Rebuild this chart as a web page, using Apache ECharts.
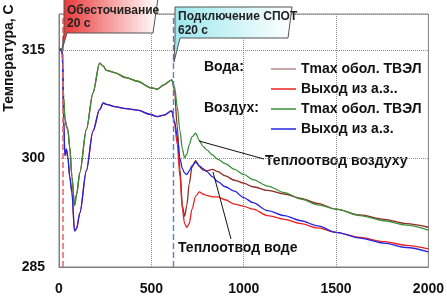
<!DOCTYPE html>
<html>
<head>
<meta charset="utf-8">
<script src="https://cdn.jsdelivr.net/npm/echarts@6/dist/echarts.min.js"></script>
<style>
  html, body { margin: 0; padding: 0; background: #fff; }
  #chart { width: 447px; height: 296px; }
</style>
</head>
<body>
<div id="chart"></div>
<script>
// время, с
const timeSec = [0, 10, 18, 25, 32, 40, 48, 58, 70, 84, 95, 113, 148, 184, 220, 240, 256, 300, 363, 425, 497, 532, 568, 610,
  625, 640, 655, 668, 680, 692, 705, 720, 740, 760, 780, 800, 830, 860, 900, 950, 1000, 1050, 1130, 1220, 1310, 1400,
  1500, 1630, 1760, 1880, 2000]

// Вода
const waterTmax = [315.3, 315.2, 314.5, 308.5, 305.6, 304.5, 304.0, 301.6, 297.5, 293.5, 295.0, 298.1, 304.0, 309.1, 313.2, 312.8,
  312.2, 311.9, 311.2, 310.7, 309.8, 309.6, 310.2, 310.9,
  309.5, 304.5, 298.5, 293.5, 292.0, 293.5, 296.5, 298.8, 299.7, 298.9, 298.4, 298.3, 298.5, 298.2, 297.6, 297.0,
  296.6, 296.1, 295.6, 295.1, 294.5, 293.8, 293.0, 292.2, 291.6, 291.0, 290.5]
const waterOut = [315.0, 315.0, 314.8, 305.4, 300.4, 301.3, 300.2, 297.5, 295.3, 290.0, 290.3, 292.5, 298.3, 303.8, 306.8, 307.7,
  307.5, 307.2, 306.9, 306.7, 306.1, 305.8, 306.0, 306.6,
  305.0, 302.0, 297.5, 293.0, 291.0, 290.5, 291.0, 293.0, 294.8, 295.4, 295.1, 294.9, 294.7, 294.7, 294.3, 293.7,
  293.4, 293.0, 292.1, 291.6, 291.0, 290.4, 289.8, 289.1, 288.5, 288.0, 287.5]

// Воздух
const airTmax = [315.3, 315.2, 314.5, 308.5, 305.6, 304.5, 304.0, 301.6, 297.5, 293.5, 295.0, 298.1, 304.0, 309.1, 313.2, 312.8,
  312.2, 311.9, 311.2, 310.7, 309.8, 309.6, 310.2, 310.9,
  310.0, 307.2, 303.8, 301.3, 300.1, 300.6, 301.9, 303.0, 303.5, 302.5, 301.7, 301.2, 300.5, 299.9, 299.3, 298.5,
  297.8, 297.1, 296.2, 295.3, 294.4, 293.6, 293.0, 292.1, 291.4, 290.8, 290.1]
const airOut = [315.0, 315.0, 314.8, 305.4, 300.4, 301.3, 300.2, 297.5, 295.3, 290.0, 290.3, 292.5, 298.3, 303.8, 306.8, 307.7,
  307.5, 307.2, 306.9, 306.7, 306.1, 305.8, 306.0, 306.6,
  305.2, 303.1, 300.0, 298.6, 298.0, 297.8, 298.3, 299.0, 299.5, 299.0, 298.6, 298.2, 297.5, 296.8, 296.1, 295.5,
  294.6, 293.9, 292.8, 292.1, 291.4, 290.7, 289.8, 289.0, 288.3, 287.7, 287.1]

const yTicks = [285, 300, 315]
const cutoffTime = 20
const spotTime = 620

const FONT = '"Liberation Sans", Arial, sans-serif'

const pairs = (vals) => timeSec.map((t, i) => [t, vals[i]])

const lineSeries = (name, vals, color) => ({
  name,
  type: 'line',
  data: pairs(vals),
  smooth: 0.3,
  smoothMonotone: 'x',
  symbol: 'none',
  lineStyle: { color, width: 1.3 },
  itemStyle: { color },
})

const chart = echarts.init(document.getElementById('chart'))

const option = {
  backgroundColor: '#fff',
  animation: false,
  grid: {
    left: 59, right: 15, top: 14, bottom: 28,
    show: true,
    borderColor: '#808080',
    borderWidth: 1,
  },
  legend: {
    orient: 'vertical',
    left: 266,
    top: 54,
    icon: 'rect',
    itemWidth: 25,
    itemHeight: 1.5,
    itemGap: 0,
    formatter: (n) => n.trim(),
    textStyle: { fontFamily: FONT, fontWeight: 'bold', fontSize: 14, lineHeight: 20, color: '#111' },
    data: [
      { name: 'Tmax обол. ТВЭЛ', itemStyle: { color: '#b98a8a' } },
      'Выход из а.з..',
      'Tmax обол. ТВЭЛ ',
      'Выход из а.з.',
    ],
  },
  xAxis: {
    type: 'value',
    min: 0,
    max: 2000,
    interval: 500,
    axisLine: { lineStyle: { color: '#808080' } },
    axisTick: { show: false },
    axisLabel: {
      margin: 15, fontFamily: FONT, fontWeight: 'bold', fontSize: 14, color: '#111',
      formatter: (v) => String(v),
    },
    splitLine: { show: true, lineStyle: { type: 'dotted', color: '#8a8a8a' } },
  },
  yAxis: {
    type: 'value',
    min: 285,
    max: 320,
    interval: 15,
    axisLine: { show: true, lineStyle: { color: '#808080' } },
    axisTick: { show: false },
    axisLabel: {
      margin: 14,
      fontFamily: FONT, fontWeight: 'bold', fontSize: 14, color: '#111',
      formatter: (v) => (yTicks.includes(v) ? String(v) : ''),
    },
    splitLine: { show: true, lineStyle: { type: 'dotted', color: '#8a8a8a' } },
  },
  series: [
    lineSeries('Tmax обол. ТВЭЛ', waterTmax, '#8e2b22'),
    lineSeries('Выход из а.з..', waterOut, '#e8201e'),
    lineSeries('Tmax обол. ТВЭЛ ', airTmax, '#3c8f3a'),
    Object.assign(lineSeries('Выход из а.з.', airOut, '#2424e0'), {
      markLine: {
        silent: true,
        symbol: 'none',
        label: { show: false },
        data: [
          { xAxis: cutoffTime, lineStyle: { color: '#e07070', type: [6, 3], width: 1.6 } },
          { xAxis: spotTime, lineStyle: { color: '#5b82c8', type: [6, 3], width: 1.4 } },
        ],
      },
    }),
  ],
  graphic: [
    // подпись оси Y
    {
      type: 'text', x: 9, y: 58, rotation: Math.PI / 2,
      style: { text: 'Температура, С', font: 'bold 14px ' + FONT, fill: '#111', align: 'center', verticalAlign: 'middle' },
    },
    // Обесточивание
    {
      type: 'polygon', z: 10,
      shape: { points: [[64, -2], [158, -2], [153, 33], [67, 33], [62, 50], [64, 33]] },
      style: {
        fill: new echarts.graphic.LinearGradient(0, 0, 1, 0, [
          { offset: 0, color: '#e83434' },
          { offset: 0.55, color: '#f7a8a8' },
          { offset: 1, color: '#ffffff' },
        ]),
        stroke: '#555', lineWidth: 1,
      },
    },
    { type: 'text', z: 11, x: 67, y: 11, style: { text: 'Обесточивание', font: 'bold 12px ' + FONT, fill: '#222', verticalAlign: 'middle' } },
    { type: 'text', z: 11, x: 67, y: 24, style: { text: '20 с', font: 'bold 12px ' + FONT, fill: '#222', verticalAlign: 'middle' } },
    // Подключение СПОТ
    {
      type: 'polygon', z: 10,
      shape: { points: [[175, 7], [292, 7], [288, 38], [180, 38], [174, 62], [175, 38]] },
      style: {
        fill: new echarts.graphic.LinearGradient(0, 0, 1, 0, [
          { offset: 0, color: '#9ce8ee' },
          { offset: 1, color: '#ffffff' },
        ]),
        stroke: '#555', lineWidth: 1,
      },
    },
    { type: 'text', z: 11, x: 178, y: 17, style: { text: 'Подключение СПОТ', font: 'bold 12px ' + FONT, fill: '#222', verticalAlign: 'middle' } },
    { type: 'text', z: 11, x: 178, y: 31, style: { text: '620 с', font: 'bold 12px ' + FONT, fill: '#222', verticalAlign: 'middle' } },
    // легенда: группы
    { type: 'text', x: 204, y: 67, style: { text: 'Вода:', font: 'bold 14px ' + FONT, fill: '#111', verticalAlign: 'middle' } },
    { type: 'text', x: 204, y: 108, style: { text: 'Воздух:', font: 'bold 14px ' + FONT, fill: '#111', verticalAlign: 'middle' } },
    // Теплоотвод воздуху
    { type: 'line', z: 10, shape: { x1: 199, y1: 141, x2: 264, y2: 159 }, style: { stroke: '#111', lineWidth: 1 } },
    { type: 'text', x: 265, y: 161, style: { text: 'Теплоотвод воздуху', font: 'bold 14px ' + FONT, fill: '#111', verticalAlign: 'middle' } },
    // Теплоотвод воде
    { type: 'line', z: 10, shape: { x1: 213, y1: 172, x2: 231, y2: 239 }, style: { stroke: '#111', lineWidth: 1 } },
    { type: 'text', x: 178, y: 248, style: { text: 'Теплоотвод воде', font: 'bold 14px ' + FONT, fill: '#111', verticalAlign: 'middle' } },
  ],
}

chart.setOption(option)
</script>
</body>
</html>
